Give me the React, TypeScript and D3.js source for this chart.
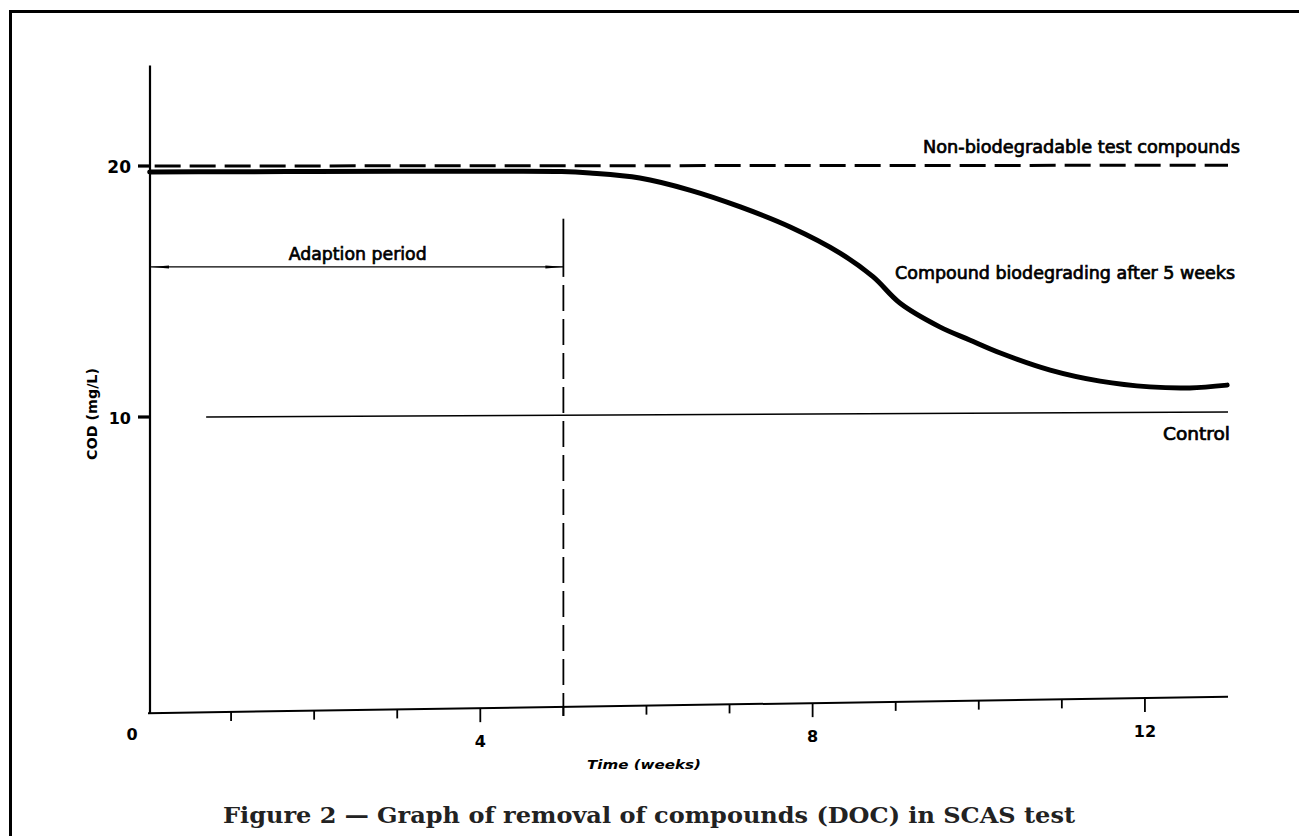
import React from "react";
import * as d3 from "d3";

// ---- data ----
const weekTicks = [0, 1, 2, 3, 4, 5, 6, 7, 8, 9, 10, 11, 12];
const weekLabels = [0, 4, 8, 12];
const codTicks = [10, 20];
const xAxisEndWeek = 13;
const yAxisTopCOD = 24;
// the drawn time axis is slightly tilted in the reference
const baselineWeeks = [0, 13];
const baselineCOD = [-1.8, -1.15];

const curveWeeks = [0.02, 1, 2, 3, 4, 4.98, 5.32, 5.92, 6.52, 7.13, 7.73, 8.33, 8.73, 9.05, 9.53, 9.89, 10.26, 10.86, 11.46, 12.06, 12.54, 12.99];
const curveCOD = [19.76, 19.77, 19.78, 19.79, 19.79, 19.78, 19.72, 19.52, 19.04, 18.37, 17.57, 16.53, 15.58, 14.54, 13.59, 13.07, 12.55, 11.87, 11.43, 11.2, 11.16, 11.27];

const nonBioWeeks = [0.08, 13];
const nonBioCOD = [20.0, 20.03];

const controlWeeks = [0.7, 13];
const controlCOD = [10.0, 10.2];

const adaptionWeek = 5;
const adaptionTopCOD = 17.9;
const adaptionArrowCOD = 15.98;

const labels = {
  nonBio: "Non-biodegradable test compounds",
  compound: "Compound biodegrading after 5 weeks",
  control: "Control",
  adaption: "Adaption period",
  yTitle: "COD (mg/L)",
  xTitle: "Time (weeks)",
  caption: "Figure 2 \u2014 Graph of removal of compounds (DOC) in SCAS test",
};

const W = 1299;
const H = 836;

export default function App() {
  const x = d3.scaleLinear().domain([0, xAxisEndWeek]).range([148, 1228]);
  const y = d3.scaleLinear().domain([10, 20]).range([417, 166]);
  const baseCOD = d3.scaleLinear().domain(baselineWeeks).range(baselineCOD);
  const by = (w: number) => y(baseCOD(w));

  const line = d3
    .line<[number, number]>()
    .x((d) => x(d[0]))
    .y((d) => y(d[1]));
  const smooth = d3
    .line<[number, number]>()
    .x((d) => x(d[0]))
    .y((d) => y(d[1]))
    .curve(d3.curveCatmullRom.alpha(0.5));

  const curvePts = curveWeeks.map((w, i) => [w, curveCOD[i]] as [number, number]);
  const nonBioPts = nonBioWeeks.map((w, i) => [w, nonBioCOD[i]] as [number, number]);
  const controlPts = controlWeeks.map((w, i) => [w, controlCOD[i]] as [number, number]);

  const font = "'DejaVu Sans', 'Liberation Sans', sans-serif";
  const x0 = x(0);
  const xA = x(adaptionWeek);
  const arrowY = y(adaptionArrowCOD);

  return (
    <svg
      width={W}
      height={H}
      viewBox={`0 0 ${W} ${H}`}
      style={{ position: "absolute", left: 0, top: 0, display: "block", background: "#fff" }}
    >
      <defs>
        <marker id="arr" viewBox="0 0 18 6" refX="18" refY="3" markerWidth="18" markerHeight="6" markerUnits="userSpaceOnUse" orient="auto-start-reverse">
          <path d="M0,1.5 L18,3 L0,4.5 Z" fill="#000" />
        </marker>
      </defs>
      <rect x={0} y={0} width={W} height={H} fill="#fff" />
      {/* frame */}
      <rect x={10.5} y={11.5} width={1400} height={1000} fill="none" stroke="#000" strokeWidth={3} />

      {/* y axis */}
      <line x1={x0 + 2} x2={x0 + 2} y1={y(yAxisTopCOD)} y2={by(0)} stroke="#000" strokeWidth={2.2} />
      {codTicks.map((t) => (
        <g key={t}>
          <line x1={x0 - 10} x2={x0 + 2} y1={y(t)} y2={y(t)} stroke="#000" strokeWidth={3.2} />
          <text x={x0 - 17} y={y(t) + 7} textAnchor="end" fontFamily={font} fontWeight="bold" fontSize={t === 20 ? 17 : 16}>
            {t}
          </text>
        </g>
      ))}
      <text
        transform={`translate(${97},${414}) rotate(-90)`}
        textAnchor="middle"
        fontFamily={font}
        fontWeight="bold"
        fontSize={14}
        textLength={92}
        lengthAdjust="spacingAndGlyphs"
      >
        {labels.yTitle}
      </text>

      {/* x axis (tilted) */}
      <line x1={x(0)} x2={x(xAxisEndWeek)} y1={by(0)} y2={by(xAxisEndWeek)} stroke="#000" strokeWidth={2} />
      {weekTicks
        .filter((t) => t > 0)
        .map((t) => {
          const long = weekLabels.includes(t);
          return (
            <line key={t} x1={x(t)} x2={x(t)} y1={by(t)} y2={by(t) + (long ? 14 : 9)} stroke="#000" strokeWidth={1.8} />
          );
        })}
      {weekLabels.map((t) => (
        <text
          key={t}
          x={t === 0 ? x(t) - 16 : x(t)}
          y={t === 0 ? by(t) + 27 : by(t) + 39}
          textAnchor="middle"
          fontFamily={font}
          fontWeight="bold"
          fontSize={16}
        >
          {t}
        </text>
      ))}
      <text
        x={587}
        y={769}
        fontFamily={font}
        fontWeight="bold"
        fontStyle="italic"
        fontSize={13}
        textLength={114}
        lengthAdjust="spacingAndGlyphs"
      >
        {labels.xTitle}
      </text>

      {/* non-biodegradable dashed line */}
      <path d={line(nonBioPts) || ""} fill="none" stroke="#000" strokeWidth={3} strokeDasharray="26 9" />
      <text x={923} y={153} fontFamily={font} fontSize={17} stroke="#000" strokeWidth={0.7} textLength={317} lengthAdjust="spacingAndGlyphs">
        {labels.nonBio}
      </text>

      {/* compound curve */}
      <path d={smooth(curvePts) || ""} fill="none" stroke="#000" strokeWidth={5} strokeLinecap="round" strokeLinejoin="round" />
      <text x={895} y={279} fontFamily={font} fontSize={17} stroke="#000" strokeWidth={0.7} textLength={340} lengthAdjust="spacingAndGlyphs">
        {labels.compound}
      </text>

      {/* control line */}
      <path d={line(controlPts) || ""} fill="none" stroke="#000" strokeWidth={1.6} />
      <text x={1163} y={440} fontFamily={font} fontSize={17} stroke="#000" strokeWidth={0.7} textLength={67} lengthAdjust="spacingAndGlyphs">
        {labels.control}
      </text>

      {/* adaption period */}
      <line x1={xA} x2={xA} y1={y(adaptionTopCOD)} y2={arrowY + 10} stroke="#000" strokeWidth={1.8} />
      <line x1={xA} x2={xA} y1={arrowY + 18} y2={by(adaptionWeek) + 9} stroke="#000" strokeWidth={1.8} strokeDasharray="26 8" />
      <line
        x1={x0 + 3}
        x2={xA}
        y1={arrowY}
        y2={arrowY}
        stroke="#000"
        strokeWidth={1.3}
        markerStart="url(#arr)"
        markerEnd="url(#arr)"
      />
      <text x={(x0 + xA) / 2 + 2} y={arrowY - 7} textAnchor="middle" fontFamily={font} fontSize={18} stroke="#000" strokeWidth={0.7} textLength={138} lengthAdjust="spacingAndGlyphs">
        {labels.adaption}
      </text>

      {/* caption */}
      <text
        x={649}
        y={823}
        textAnchor="middle"
        fontFamily="'DejaVu Serif', 'Liberation Serif', serif"
        fontWeight="bold"
        fontSize={23}
        fill="#222"
        textLength={852}
        lengthAdjust="spacingAndGlyphs"
      >
        {labels.caption}
      </text>
    </svg>
  );
}
